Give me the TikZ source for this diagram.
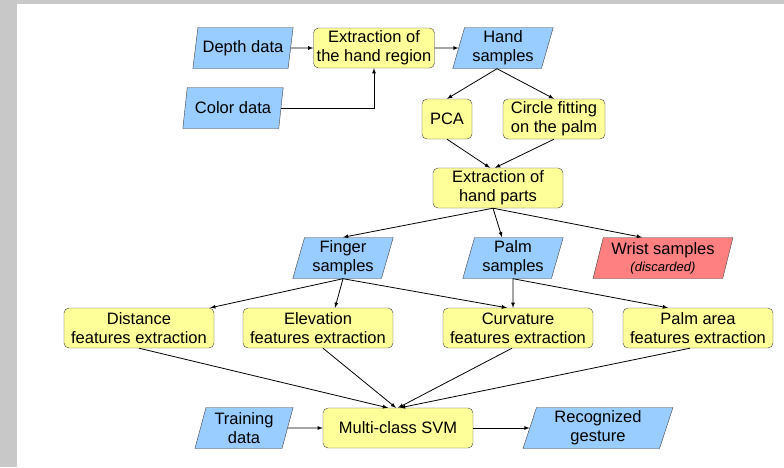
\documentclass[tikz,border=0pt]{standalone}
\usepackage{fontspec}
\setmainfont{Liberation Sans}
\usetikzlibrary{positioning,shapes.geometric}
\definecolor{procyellow}{RGB}{255,255,153}
\definecolor{datablue}{RGB}{153,204,255}
\definecolor{discardred}{RGB}{255,128,128}
\definecolor{framegray}{RGB}{200,200,200}

\begin{document}
\begin{tikzpicture}[x=1pt,y=-1pt, >=latex,
  font=\fontsize{16.5}{19}\selectfont,
  proc/.style={rectangle, rounded corners=5pt, draw=black!75, fill=procyellow,
    align=center, inner sep=1pt, minimum height=40pt},
  data/.style={trapezium, trapezium left angle=75, trapezium right angle=105,
    trapezium stretches=true, draw=black!75, fill=datablue,
    align=center, inner sep=1pt, minimum height=41pt, minimum width=101pt},
  flow/.style={->, line width=0.8pt}]
  \useasboundingbox (0,0) rectangle (784,467);
  \fill[framegray] (0,0) rectangle (784,4);
  \fill[framegray] (0,0) rectangle (17,467);

  % input stage
  \node [data] (depth) at (243,48) {Depth data};
  \node [data] (color) at (233,108) {Color data};
  \node [proc, minimum width=121pt] (region) at (374,48) {Extraction of\\the hand region};
  \node [data] (hand) at (503,48) {Hand\\samples};
  \node [proc, minimum width=50pt] (pca) at (447,119) {PCA};
  \node [proc, minimum width=102pt] (circle) at (554,119) {Circle fitting\\on the palm};
  \node [proc, minimum width=130pt] (parts) at (498,188) {Extraction of\\hand parts};

  % hand parts
  \node [data] (finger) at (343,258) {Finger\\samples};
  \node [data] (palm) at (513,258) {Palm\\samples};
  \node [data, fill=discardred, minimum width=140pt] (wrist) at (663,258)
    {Wrist samples\\[-2pt]{\fontsize{13}{15}\selectfont\itshape (discarded)}};

  % features
  \node [proc, minimum width=150pt] (dist) at (139,328) {Distance\\features extraction};
  \node [proc, minimum width=150pt] (elev) at (318,328) {Elevation\\features extraction};
  \node [proc, minimum width=150pt] (curv) at (518,328) {Curvature\\features extraction};
  \node [proc, minimum width=150pt] (area) at (698,328) {Palm area\\features extraction};

  % classification
  \node [data, minimum width=99pt] (train) at (244,428) {Training\\data};
  \node [proc, minimum width=150pt] (svm) at (398,428) {Multi-class SVM};
  \node [data, minimum width=150pt] (rec) at (598,428) {Recognized\\gesture};

  \draw [flow] (depth) -- (region);
  \draw [flow] (color.east) -| (region.south);
  \draw [flow] (region) -- (hand);
  \draw [flow] ([xshift=-6pt]hand.south) -- (pca.north);
  \draw [flow] ([xshift=-6pt]hand.south) -- (circle.north);
  \draw [flow] (pca.south) -- ([xshift=-8pt]parts.north);
  \draw [flow] (circle.south) -- ([xshift=-3pt]parts.north);
  \draw [flow] ([xshift=-5pt]parts.south) -- (finger.north);
  \draw [flow] ([xshift=-5pt]parts.south) -- ([xshift=-11pt]palm.north);
  \draw [flow] ([xshift=-5pt]parts.south) -- ([xshift=-21pt]wrist.north);
  \draw [flow] (finger.south) -- ([xshift=-4pt]dist.north east);
  \draw [flow] (finger.south) -- ([xshift=17pt]elev.north);
  \draw [flow] (finger.south) -- ([xshift=-11pt]curv.north);
  \draw [flow] (palm.south) -- ([xshift=-5pt]curv.north);
  \draw [flow] (palm.south) -- ([xshift=-30pt]area.north);
  \draw [flow] (dist.south) -- ([xshift=-10pt]svm.north);
  \draw [flow] ([xshift=5pt]elev.south) -- ([xshift=-2pt]svm.north);
  \draw [flow] ([xshift=-6pt]curv.south) -- (svm.north);
  \draw [flow] ([xshift=-8pt]area.south) -- ([xshift=2pt]svm.north);
  \draw [flow] (train) -- (svm);
  \draw [flow] (svm) -- (rec);
\end{tikzpicture}
\end{document}
